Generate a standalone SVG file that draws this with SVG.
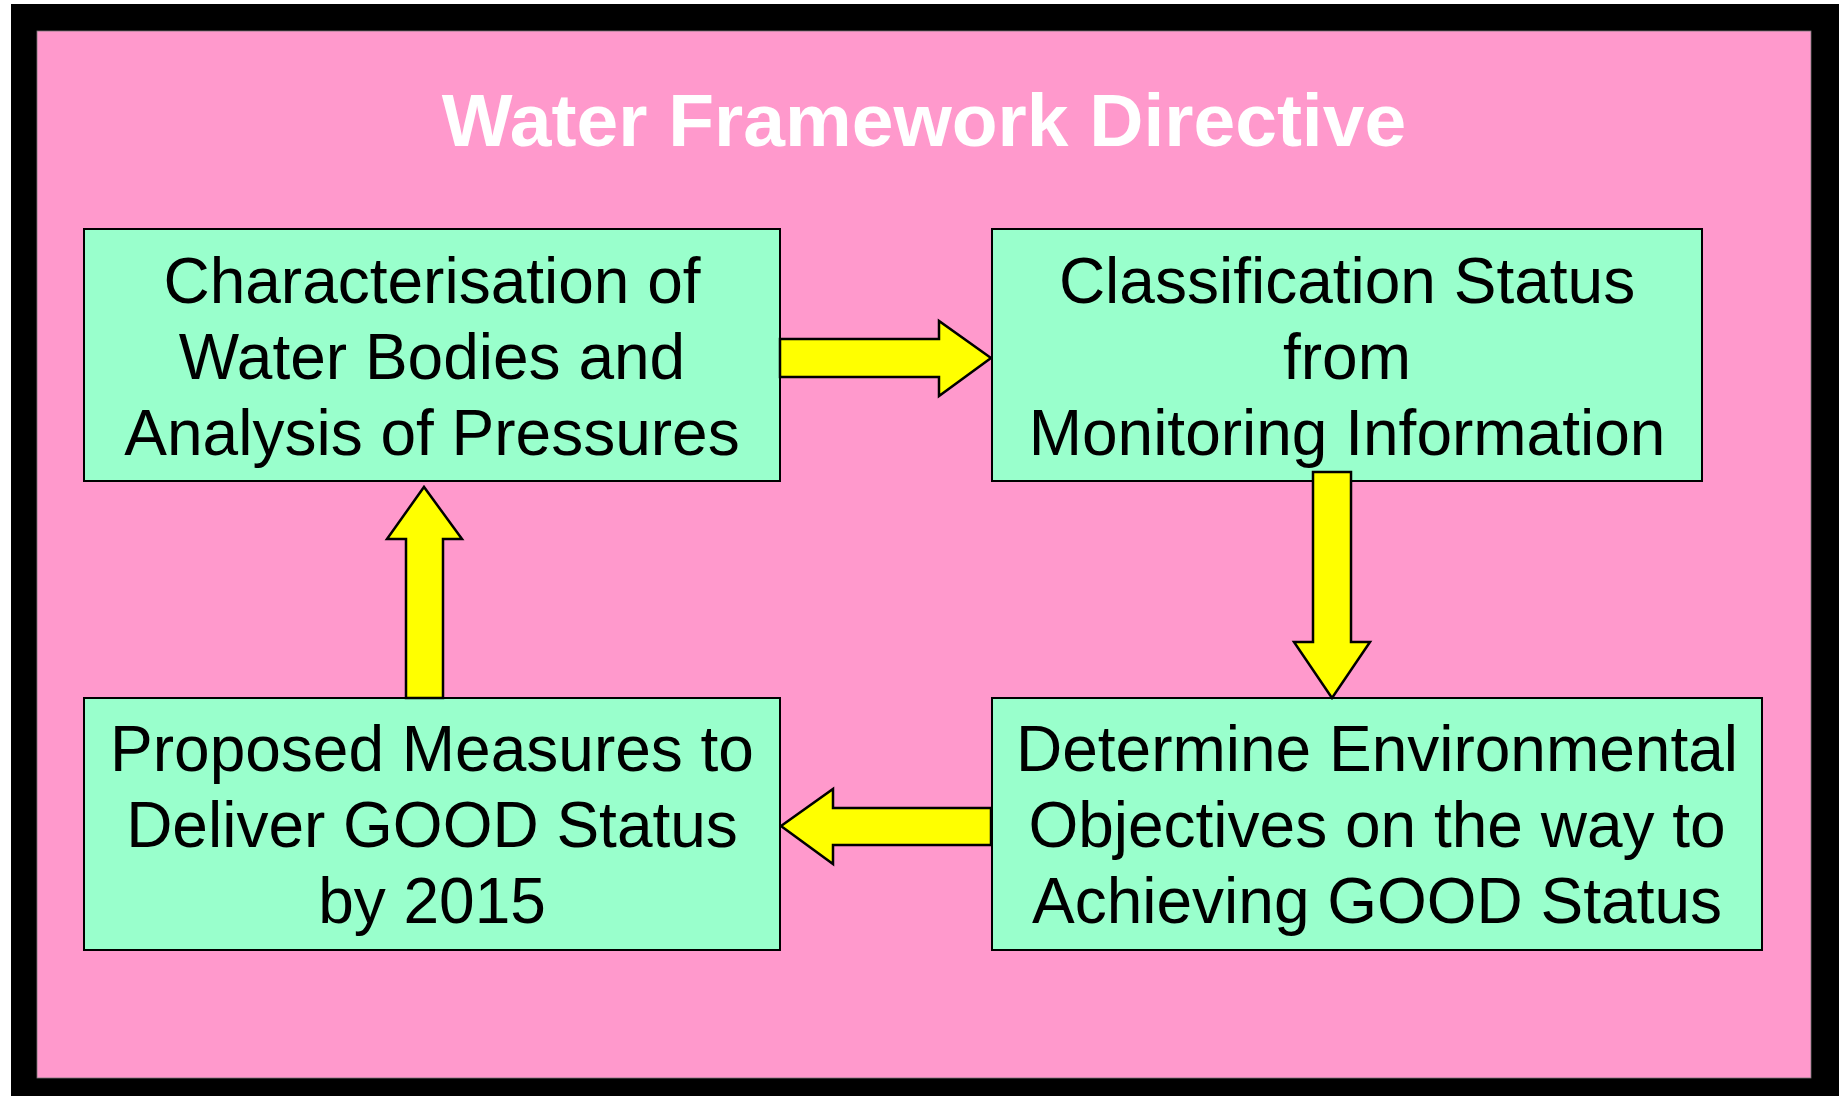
<svg xmlns="http://www.w3.org/2000/svg" width="1839" height="1096" viewBox="0 0 1839 1096">
<style>
.box{fill:#99FFCC;stroke:#000;stroke-width:2}
.arr{fill:#FFFF00;stroke:#000;stroke-width:2.5;stroke-linejoin:miter}
.t{font-family:"Liberation Sans",Arial,sans-serif;font-size:64px;fill:#000;text-anchor:middle}
.title{font-family:"Liberation Sans",Arial,sans-serif;font-size:75px;font-weight:bold;fill:#fff;text-anchor:middle}
</style>
<rect x="0" y="0" width="1839" height="1096" fill="#fff"/>
<rect x="11" y="4" width="1828" height="1092" fill="#000"/>
<rect x="37" y="31" width="1774" height="1047" fill="#FF99CC" stroke="#777" stroke-width="0.8"/>
<text class="title" x="924" y="146">Water Framework Directive</text>
<g id="node1">
<rect class="box" x="84" y="229" width="696" height="252"/>
<text class="t" x="432" y="303">Characterisation of</text>
<text class="t" x="432" y="379">Water Bodies and</text>
<text class="t" x="432" y="455">Analysis of Pressures</text>
</g>
<g id="node2">
<rect class="box" x="992" y="229" width="710" height="252"/>
<text class="t" x="1347" y="303">Classification Status</text>
<text class="t" x="1347" y="379">from</text>
<text class="t" x="1347" y="455">Monitoring Information</text>
</g>
<g id="node3">
<rect class="box" x="992" y="698" width="770" height="252"/>
<text class="t" x="1377" y="771">Determine Environmental</text>
<text class="t" x="1377" y="847">Objectives on the way to</text>
<text class="t" x="1377" y="923">Achieving GOOD Status</text>
</g>
<g id="node4">
<rect class="box" x="84" y="698" width="696" height="252"/>
<text class="t" x="432" y="771">Proposed Measures to</text>
<text class="t" x="432" y="847">Deliver GOOD Status</text>
<text class="t" x="432" y="923">by 2015</text>
</g>
<g id="connectors">
<polygon class="arr" points="780,339 939,339 939,321 991,358 939,396 939,377 780,377"/>
<polygon class="arr" points="1313,472 1351,472 1351,642 1370,642 1332,698 1294,642 1313,642"/>
<polygon class="arr" points="991,808 833,808 833,789 781,826 833,864 833,845 991,845"/>
<polygon class="arr" points="406,698 443,698 443,539 462,539 424,487 387,539 406,539"/>
</g>
</svg>
